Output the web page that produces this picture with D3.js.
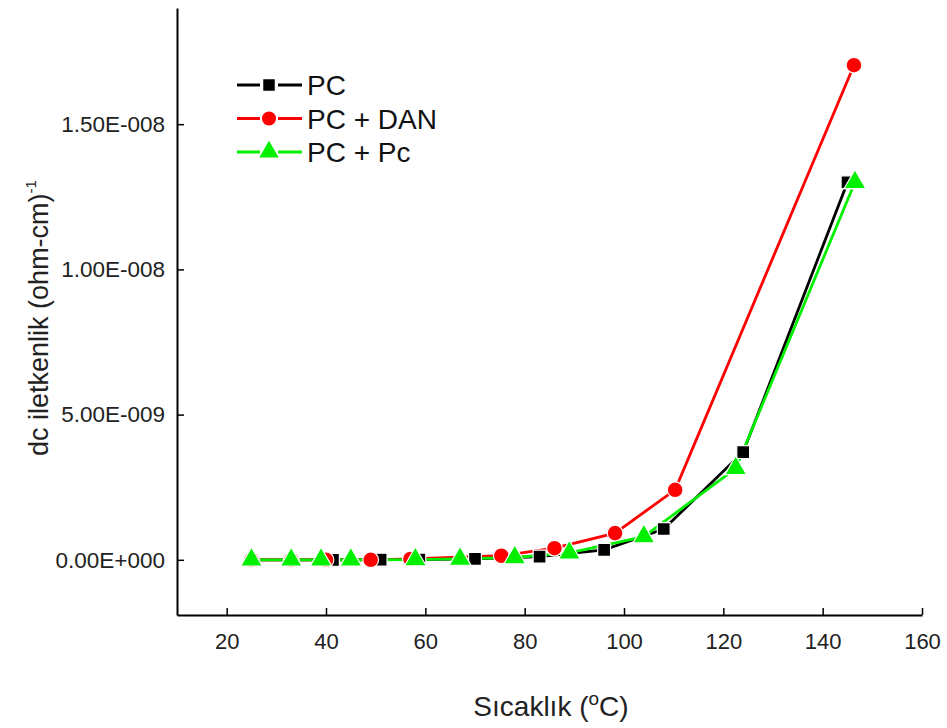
<!DOCTYPE html>
<html>
<head>
<meta charset="utf-8">
<script src="https://cdn.jsdelivr.net/npm/d3@7"></script>
<style>
  body { margin: 0; background: #fff; }
  svg { display: block; font-family: "Liberation Sans", Arial, sans-serif; }
</style>
</head>
<body>
<svg id="chart" width="947" height="728"></svg>
<script>
// Temperature (°C) and dc conductivity (ohm-cm)^-1 for each sample
const pcT   = [25, 33, 41.4, 51, 58.8, 70, 83, 96, 108, 124, 145];
const pcS   = [0, 0, 0, 0.005e-9, 0.01e-9, 0.03e-9, 0.11e-9, 0.34e-9, 1.06e-9, 3.71e-9, 13.0e-9];

const danT  = [25, 33, 40, 49, 57, 75.3, 86, 98.2, 110.3, 146.3];
const danS  = [0, 0, 0, 0, 0.03e-9, 0.14e-9, 0.4e-9, 0.92e-9, 2.41e-9, 17.03e-9];

const pcPcT = [25, 33, 39, 45, 58, 67, 78, 89, 104, 122.5, 146.5];
const pcPcS = [0, 0, 0, 0, 0.01e-9, 0.03e-9, 0.08e-9, 0.24e-9, 0.8e-9, 3.15e-9, 13.0e-9];

const xTicks = [20, 40, 60, 80, 100, 120, 140, 160];
const yTicks = [0, 5e-9, 1e-8, 1.5e-8];
const yTickLabels = ["0.00E+000", "5.00E-009", "1.00E-008", "1.50E-008"];

const seriesNames = ["PC", "PC + DAN", "PC + Pc"];
const seriesColors = ["#000000", "#ff0000", "#00f000"];
const seriesSymbols = [d3.symbolSquare, d3.symbolCircle, d3.symbolTriangle];
const seriesSizes = [165, 195, 205];

const series = [
  { t: pcT, s: pcS },
  { t: danT, s: danS },
  { t: pcPcT, s: pcPcS }
];

const svg = d3.select("#chart");
const x = d3.scaleLinear().domain([10, 160]).range([177, 922]);
const y = d3.scaleLinear().domain([-1.9e-9, 1.9e-8]).range([615, 8]);

// Axes: left and bottom only, ticks pointing inward
const xAxis = d3.axisBottom(x).tickValues(xTicks).tickSizeInner(-7).tickSizeOuter(0).tickPadding(18);
const yAxis = d3.axisLeft(y).tickValues(yTicks).tickSizeInner(-7).tickSizeOuter(0).tickPadding(12)
  .tickFormat((d, i) => yTickLabels[i]);

const gx = svg.append("g").attr("transform", "translate(0,615)").call(xAxis);
const gy = svg.append("g").attr("transform", "translate(177,0)").call(yAxis);
[gx, gy].forEach(g => {
  g.select(".domain").attr("stroke", "#000").attr("stroke-width", 2);
  g.selectAll(".tick line").attr("stroke", "#000").attr("stroke-width", 1.5);
  g.selectAll(".tick text").attr("fill", "#222")
    .style("font-family", "'Liberation Sans', Arial, sans-serif");
});
gx.selectAll(".tick text").style("font-size", "22px");
gy.selectAll(".tick text").style("font-size", "22.5px");

// Axis titles
svg.append("text")
  .attr("transform", "translate(48,318) rotate(-90)")
  .attr("text-anchor", "middle")
  .style("font-size", "27px").attr("fill", "#222")
  .text("dc iletkenlik (ohm-cm)")
  .append("tspan").attr("dy", -12).style("font-size", "15px").text("-1");

const xl = svg.append("text")
  .attr("x", 551).attr("y", 716)
  .attr("text-anchor", "middle")
  .style("font-size", "28px").attr("fill", "#222");
xl.append("tspan").text("Sıcaklık (");
xl.append("tspan").attr("dy", -11).style("font-size", "19px").text("o");
xl.append("tspan").attr("dy", 11).text("C)");

// Lines and markers
const line = d3.line().x(d => x(d[0])).y(d => y(d[1]));
series.forEach((sr, i) => {
  const pts = sr.t.map((t, j) => [t, sr.s[j]]);
  svg.append("path").datum(pts)
    .attr("d", line).attr("fill", "none")
    .attr("stroke", seriesColors[i]).attr("stroke-width", 2.8);
});
series.forEach((sr, i) => {
  const pts = sr.t.map((t, j) => [t, sr.s[j]]);
  svg.append("g").selectAll("path").data(pts).join("path")
    .attr("transform", d => `translate(${x(d[0])},${y(d[1])})`)
    .attr("d", d3.symbol().type(seriesSymbols[i]).size(seriesSizes[i]))
    .attr("fill", seriesColors[i])
    .attr("stroke", "#fff").attr("stroke-width", 1.2);
});

// Legend
const legend = svg.append("g");
seriesNames.forEach((name, i) => {
  const cy = 85 + i * 33.5;
  const g = legend.append("g");
  g.append("line").attr("x1", 237).attr("x2", 260).attr("y1", cy).attr("y2", cy)
    .attr("stroke", seriesColors[i]).attr("stroke-width", 3);
  g.append("line").attr("x1", 278).attr("x2", 302).attr("y1", cy).attr("y2", cy)
    .attr("stroke", seriesColors[i]).attr("stroke-width", 3);
  g.append("path").attr("transform", `translate(269,${cy})`)
    .attr("d", d3.symbol().type(seriesSymbols[i]).size(seriesSizes[i] * 0.8))
    .attr("fill", seriesColors[i]);
  g.append("text").attr("x", 307).attr("y", cy + 10)
    .style("font-size", "28px").attr("fill", "#111").text(name);
});
</script>
</body>
</html>
